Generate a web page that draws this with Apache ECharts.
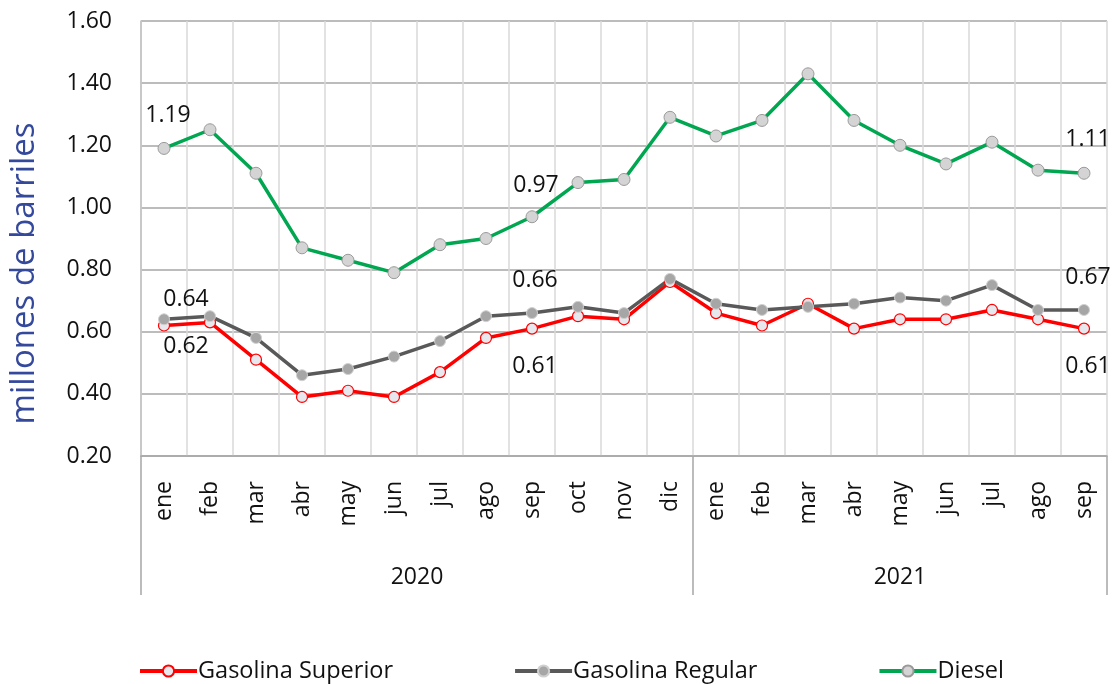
<!DOCTYPE html>
<html>
<head>
<meta charset="utf-8">
<script src="https://cdn.jsdelivr.net/npm/echarts@6/dist/echarts.min.js"></script>
<style>
  html, body { margin: 0; padding: 0; background: #fff; }
  #main { width: 1114px; height: 684px; }
</style>
</head>
<body>
<div id="main"></div>
<script>
// meses (2020: ene-dic, 2021: ene-sep)
const months = ['ene', 'feb', 'mar', 'abr', 'may', 'jun', 'jul', 'ago', 'sep', 'oct', 'nov', 'dic',
  'ene', 'feb', 'mar', 'abr', 'may', 'jun', 'jul', 'ago', 'sep']
const years = ['2020', '2021']
const monthsPerYear = [12, 9]

// millones de barriles
const superior = [0.62, 0.63, 0.51, 0.39, 0.41, 0.39, 0.47, 0.58, 0.61, 0.65, 0.64, 0.76,
  0.66, 0.62, 0.69, 0.61, 0.64, 0.64, 0.67, 0.64, 0.61]
const regular = [0.64, 0.65, 0.58, 0.46, 0.48, 0.52, 0.57, 0.65, 0.66, 0.68, 0.66, 0.77,
  0.69, 0.67, 0.68, 0.69, 0.71, 0.70, 0.75, 0.67, 0.67]
const diesel = [1.19, 1.25, 1.11, 0.87, 0.83, 0.79, 0.88, 0.90, 0.97, 1.08, 1.09, 1.29,
  1.23, 1.28, 1.43, 1.28, 1.20, 1.14, 1.21, 1.12, 1.11]

// puntos con etiqueta: indice -> desplazamiento [x, y]
const superiorLabels = { 0: [22, 21], 8: [3, 38], 20: [4, 38] }
const regularLabels = { 0: [22, -20], 8: [3, -33], 20: [4, -33] }
const dieselLabels = { 0: [4, -33], 8: [4, -31], 20: [4, -34] }

const labelFont = { fontFamily: 'Open Sans', fontSize: 23, color: '#111' }

function buildData(values, labels) {
  return values.map((v, i) => {
    if (!labels[i]) return v
    return {
      value: v,
      label: {
        show: true,
        position: 'inside',
        offset: labels[i],
        formatter: (p) => p.value.toFixed(2),
        ...labelFont
      }
    }
  })
}

// limites y centros de cada año sobre el eje
const yearBounds = [0]
monthsPerYear.forEach(n => yearBounds.push(yearBounds[yearBounds.length - 1] + n))
const yearCenters = years.map((y, i) => (yearBounds[i] + yearBounds[i + 1]) / 2)

const chart = echarts.init(document.getElementById('main'))
chart.setOption({
  animation: false,
  textStyle: { fontFamily: 'Open Sans' },
  grid: { left: 141, right: 7, top: 21, bottom: 228 },
  legend: {
    left: 133,
    top: 654,
    itemGap: 120,
    itemWidth: 57,
    itemHeight: 14,
    textStyle: { fontFamily: 'Open Sans', fontSize: 23.5, color: '#111', padding: [0, 0, 0, -4] },
    lineStyle: { width: 4 },
    data: ['Gasolina Superior', 'Gasolina Regular', 'Diesel']
  },
  xAxis: [
    {
      type: 'category',
      data: months,
      boundaryGap: true,
      axisLine: { show: true, lineStyle: { color: '#a6a6a6', width: 1.5 } },
      axisTick: { show: false },
      axisLabel: { rotate: 90, margin: 25, fontSize: 23, color: '#111', fontFamily: 'Open Sans' },
      splitLine: { show: true, lineStyle: { color: '#d9d9d9', width: 1.5 } }
    },
    {
      type: 'value',
      min: 0,
      max: months.length,
      position: 'bottom',
      axisLine: { show: false },
      splitLine: { show: false },
      axisTick: {
        show: true,
        customValues: yearBounds,
        length: 139,
        lineStyle: { color: '#a6a6a6', width: 1.5 }
      },
      axisLabel: {
        customValues: yearCenters,
        formatter: (v) => years[yearCenters.indexOf(v)],
        margin: 110,
        fontSize: 23,
        color: '#111',
        fontFamily: 'Open Sans'
      }
    }
  ],
  yAxis: {
    type: 'value',
    min: 0.2,
    max: 1.6,
    interval: 0.2,
    name: 'millones de barriles',
    nameLocation: 'middle',
    nameGap: 100,
    nameTextStyle: { fontSize: 33, color: '#34489c', fontFamily: 'Open Sans', padding: [0, 70, 0, 0] },
    axisLine: { show: true, lineStyle: { color: '#bfbfbf', width: 1.5 } },
    axisTick: { show: false },
    axisLabel: {
      margin: 29,
      fontSize: 23,
      color: '#111',
      fontFamily: 'Open Sans',
      formatter: (v) => v.toFixed(2)
    },
    splitLine: { show: true, lineStyle: { color: '#a6a6a6', width: 1.5 } }
  },
  series: [
    {
      name: 'Gasolina Superior',
      type: 'line',
      data: buildData(superior, superiorLabels),
      symbol: 'circle',
      symbolSize: 11,
      lineStyle: { color: '#ff0000', width: 3.5 },
      itemStyle: { color: '#e6e8ee', borderColor: '#ff0000', borderWidth: 1.2 }
    },
    {
      name: 'Gasolina Regular',
      type: 'line',
      data: buildData(regular, regularLabels),
      symbol: 'circle',
      symbolSize: 11,
      lineStyle: { color: '#595959', width: 3.5 },
      itemStyle: { color: '#a6a6a6', borderColor: '#d0d0d0', borderWidth: 1 }
    },
    {
      name: 'Diesel',
      type: 'line',
      data: buildData(diesel, dieselLabels),
      symbol: 'circle',
      symbolSize: 12,
      lineStyle: { color: '#00a650', width: 3.5 },
      itemStyle: { color: '#d4d4d4', borderColor: '#9a9a9a', borderWidth: 1 }
    }
  ]
})
</script>
</body>
</html>
